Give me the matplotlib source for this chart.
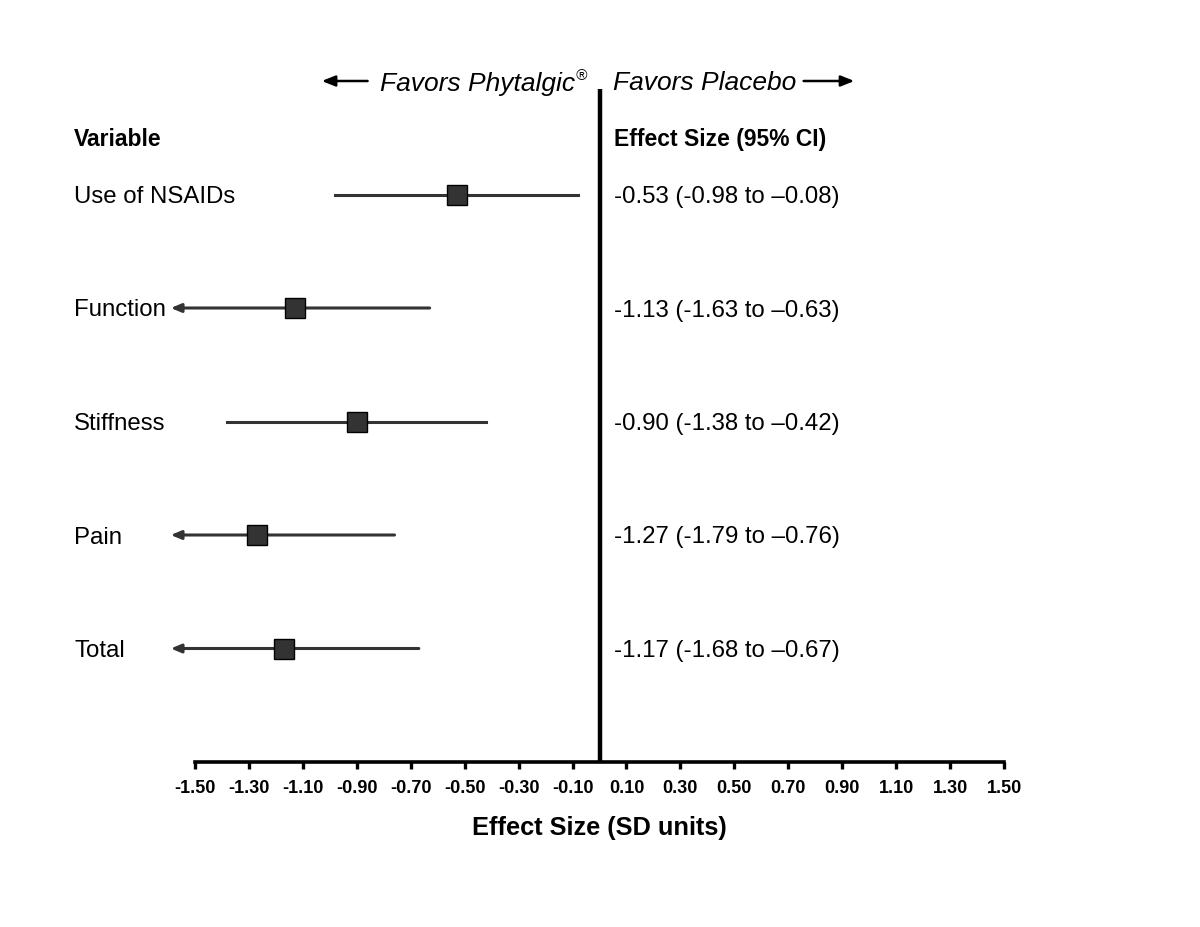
import matplotlib
matplotlib.use("Agg")
import matplotlib.pyplot as plt
from matplotlib.transforms import offset_copy

plt.rcParams['font.family'] = ['Liberation Sans', 'DejaVu Sans']

# forest plot data
variables = ['Use of NSAIDs', 'Function', 'Stiffness', 'Pain', 'Total']
effect = [-0.53, -1.13, -0.90, -1.27, -1.17]
ci_low = [-0.98, -1.63, -1.38, -1.79, -1.68]
ci_high = [-0.08, -0.63, -0.42, -0.76, -0.67]
ci_text = ['-0.53 (-0.98 to \u20130.08)', '-1.13 (-1.63 to \u20130.63)',
           '-0.90 (-1.38 to \u20130.42)', '-1.27 (-1.79 to \u20130.76)',
           '-1.17 (-1.68 to \u20130.67)']
ticks = [-1.5, -1.3, -1.1, -0.9, -0.7, -0.5, -0.3, -0.1,
         0.1, 0.3, 0.5, 0.7, 0.9, 1.1, 1.3, 1.5]

fig = plt.figure(figsize=(12, 9.27), dpi=100)
ax = fig.add_axes([195/1200, 1 - 762/927, 809/1200, 6*113.5/927])
ax.set_xlim(-1.5, 1.5)
ax.set_ylim(0, 6)

xmin = ax.get_xlim()[0]
ypos = list(range(len(variables), 0, -1))
lcol = '#333333'

for y, name, e, lo, hi, txt in zip(ypos, variables, effect, ci_low, ci_high, ci_text):
    if lo < xmin:
        # CI runs off the scale -> arrow
        ax.annotate('', xy=(xmin - 0.09, y), xytext=(hi, y),
                    arrowprops=dict(arrowstyle='-|>,head_length=0.6,head_width=0.25',
                                    color=lcol, lw=2.2, shrinkA=0, shrinkB=0),
                    annotation_clip=False, zorder=2)
    else:
        ax.plot([lo, hi], [y, y], color=lcol, lw=2.2, zorder=2)
    ax.plot(e, y, marker='s', ms=14, mfc=lcol, mec='black', mew=1, zorder=3)
    ax.text(-1.948, y, name, fontsize=17.3, ha='left', va='center_baseline')
    ax.text(0.052, y, txt, fontsize=17.3, ha='left', va='center_baseline')

# headers
ax.text(-1.948, 5.51, 'Variable', fontsize=16.5, fontweight='bold',
        ha='left', va='center_baseline')
ax.text(0.052, 5.51, 'Effect Size (95% CI)', fontsize=16.5, fontweight='bold',
        ha='left', va='center_baseline')

# direction labels
ax.text(-0.09, 6.0, 'Favors Phytalgic', fontsize=19, style='italic',
        ha='right', va='center_baseline', clip_on=False)
ax.text(-0.089, 6.0, '\u00ae', fontsize=11, style='italic', ha='left',
        va='center_baseline',
        transform=offset_copy(ax.transData, fig=fig, y=5, units='points'))
ax.text(0.05, 6.0, 'Favors Placebo', fontsize=19, style='italic',
        ha='left', va='center_baseline')
arrow_kw = dict(arrowstyle='-|>,head_length=0.8,head_width=0.32', color='black',
                lw=1.8, shrinkA=0, shrinkB=0)
ax.annotate('', xy=(-1.03, 6.0), xytext=(-0.86, 6.0), arrowprops=arrow_kw,
            annotation_clip=False)
ax.annotate('', xy=(0.945, 6.0), xytext=(0.757, 6.0), arrowprops=arrow_kw,
            annotation_clip=False)

# line of no effect
ax.vlines(0, 0, 5.93, color='black', lw=3.2, clip_on=False, zorder=4)

for s in ['top', 'left', 'right']:
    ax.spines[s].set_visible(False)
ax.spines['bottom'].set_linewidth(2.6)
ax.set_yticks([])
ax.set_xticks(ticks)
ax.set_xticklabels([f'{t:.2f}' for t in ticks], fontsize=13, fontweight='bold')
ax.tick_params(axis='x', direction='out', length=5, width=2.4, pad=8)
ax.set_xlabel('Effect Size (SD units)', fontsize=18.3, fontweight='bold', labelpad=14)

fig.savefig('out.png', dpi=100)
